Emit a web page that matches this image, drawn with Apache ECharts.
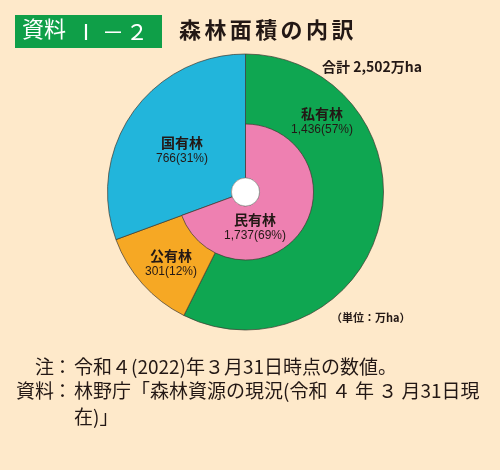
<!DOCTYPE html>
<html><head><meta charset="utf-8">
<script src="https://cdn.jsdelivr.net/npm/echarts@6/dist/echarts.min.js"></script>
<style>html,body{margin:0;padding:0;background:#FEE9CA;}#c{width:500px;height:470px;}</style>
</head><body><div id="c"></div>
<script>
// Outer ring: ownership breakdown (万ha)
const outerNames = ['私有林', '公有林', '国有林'];
const outerValues = [1436, 301, 766];
const outerPercents = ['57%', '12%', '31%'];
// Inner ring: 民有林 (= 私有林 + 公有林)
const innerNames = ['民有林', ''];
const innerValues = [1737, 766];
const innerPercents = ['69%', ''];
const titleText = '森林面積の内訳';
const totalText = '合計 2,502万ha';
const unitText = '（単位：万ha）';

const outerColors = ['#0FA651', '#F6A824', '#22B5DB'];
const innerColors = ['#EE80B1', 'rgba(0,0,0,0)'];

const labelPos = {
  '私有林': [322, 121],
  '公有林': [171, 263],
  '国有林': [182, 150],
  '民有林': [255, 227]
};

function fmtVal(v) { return v.toLocaleString('en-US'); }

const chart = echarts.init(document.getElementById('c'), null, {renderer: 'canvas'});
const rich = {
  n: {fontFamily: 'Noto Sans CJK JP', fontWeight: 'bold', fontSize: 14, color: '#231815', lineHeight: 18},
  v: {fontFamily: 'Liberation Sans', fontSize: 12, color: '#231815', lineHeight: 15}
};
const pieCenter = [245.5, 192];
const txt = '#231815';
const graphics = [
  {type: 'rect', left: 15, top: 15, shape: {width: 147, height: 33}, style: {fill: '#0F9F48'}},
  {type: 'text', left: 22, top: 18, style: {text: '資料', fontFamily: 'Noto Sans CJK JP', fontSize: 22, fill: '#ffffff'}},
  {type: 'text', x: 86, y: 32, style: {text: 'Ⅰ', fontFamily: 'Noto Sans CJK JP', fontSize: 22, fill: '#ffffff', align: 'center', verticalAlign: 'middle'}},
  {type: 'text', x: 113, y: 32, style: {text: '－', fontFamily: 'Noto Sans CJK JP', fontSize: 22, fill: '#ffffff', align: 'center', verticalAlign: 'middle'}},
  {type: 'text', x: 137, y: 32, style: {text: '２', fontFamily: 'Noto Sans CJK JP', fontSize: 22, fill: '#ffffff', align: 'center', verticalAlign: 'middle'}},
  {type: 'text', left: 322, top: 60, style: {text: totalText, fontFamily: 'Noto Sans CJK JP', fontWeight: 'bold', fontSize: 14, fill: txt}},
  {type: 'text', left: 331, top: 312, style: {text: unitText, fontFamily: 'Noto Sans CJK JP', fontWeight: 'bold', fontSize: 11, fill: txt}},
  {type: 'text', left: 35, top: 357, style: {text: '注', fontFamily: 'Noto Sans CJK JP', fontSize: 19, fill: txt}},
  {type: 'text', left: 16, top: 381, style: {text: '資料', fontFamily: 'Noto Sans CJK JP', fontSize: 19, fill: txt}},
  {type: 'text', left: 53, top: 357, style: {text: '：', fontFamily: 'Noto Sans CJK JP', fontSize: 19, fill: txt}},
  {type: 'text', left: 53, top: 381, style: {text: '：', fontFamily: 'Noto Sans CJK JP', fontSize: 19, fill: txt}},
  {type: 'text', left: 74, top: 357, style: {text: '令和４(2022)年３月31日時点の数値。', fontFamily: 'Noto Sans CJK JP', fontSize: 19, fill: txt}},
  {type: 'text', left: 74, top: 381, style: {text: '林野庁「森林資源の現況(令和 ４ 年 ３ 月31日現', fontFamily: 'Noto Sans CJK JP', fontSize: 19, fill: txt}},
  {type: 'text', left: 74, top: 407, style: {text: '在)」', fontFamily: 'Noto Sans CJK JP', fontSize: 19, fill: txt}}
];
// title characters with letter spacing
Array.from(titleText).forEach((ch, i) => {
  graphics.push({type: 'text', x: 190 + i * 25.4, y: 30, style: {text: ch, fontFamily: 'Noto Sans CJK JP', fontWeight: 'bold', fontSize: 22, fill: txt, align: 'center', verticalAlign: 'middle'}});
});
const option = {
  backgroundColor: '#FEE9CA',
  animation: false,
  series: [
    {
      type: 'pie', center: pieCenter, radius: [14, 138], startAngle: 90, clockwise: true,
      silent: true,
      data: outerNames.map((n, i) => ({name: n, value: outerValues[i],
        itemStyle: {color: outerColors[i]}})),
      itemStyle: {borderColor: '#3d3a30', borderWidth: 0.7},
      label: {
        show: true, position: 'inside', align: 'center', verticalAlign: 'middle',
        formatter: p => '{n|' + p.name + '}\n{v|' + fmtVal(p.value) + '(' + outerPercents[p.dataIndex] + ')}',
        rich: rich
      },
      labelLine: {show: false},
      labelLayout: p => ({x: labelPos[outerNames[p.dataIndex]][0], y: labelPos[outerNames[p.dataIndex]][1], align: 'center', verticalAlign: 'middle'})
    },
    {
      type: 'pie', center: pieCenter, radius: [14, 68], startAngle: 90, clockwise: true,
      silent: true,
      data: innerNames.map((n, i) => ({name: n || 'rest', value: innerValues[i],
        itemStyle: {color: innerColors[i], borderWidth: i === 0 ? 0.7 : 0, borderColor: '#3d3a30'},
        label: {show: i === 0}})),
      label: {
        position: 'inside', align: 'center', verticalAlign: 'middle',
        formatter: p => '{n|' + p.name + '}\n{v|' + fmtVal(p.value) + '(' + innerPercents[p.dataIndex] + ')}',
        rich: rich
      },
      labelLine: {show: false},
      labelLayout: p => p.dataIndex === 0 ? ({x: labelPos['民有林'][0], y: labelPos['民有林'][1], align: 'center', verticalAlign: 'middle'}) : {}
    },
    {
      type: 'pie', center: pieCenter, radius: [0, 14], silent: true,
      data: [{value: 1, itemStyle: {color: '#ffffff', borderColor: '#9a9a9a', borderWidth: 0.6}}],
      label: {show: false}, labelLine: {show: false}
    }
  ],
  graphic: graphics
};
chart.setOption(option);
</script></body></html>
